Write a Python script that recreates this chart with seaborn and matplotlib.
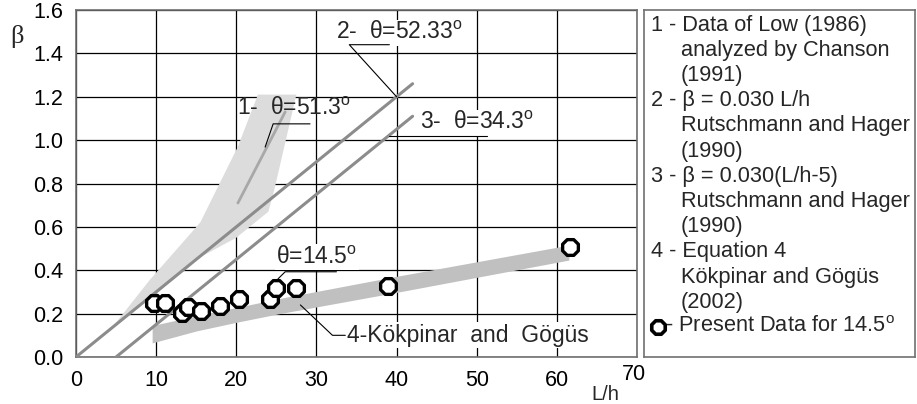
import numpy as np
import pandas as pd
import seaborn as sns
import matplotlib.pyplot as plt
from matplotlib.transforms import ScaledTranslation

sns.set_theme(style='white')
plt.rcParams['font.family'] = ['Liberation Sans', 'DejaVu Sans']
plt.rcParams['mathtext.fontset'] = 'custom'
plt.rcParams['mathtext.rm'] = 'Liberation Sans'

# present data, theta = 14.5 deg
present_lh = [9.7, 11.1, 13.2, 14.0, 15.6, 18.0, 20.4, 24.2, 25.0, 27.4, 38.9, 61.6]
present_beta = [0.249, 0.249, 0.203, 0.23, 0.212, 0.235, 0.267, 0.267, 0.317, 0.317, 0.327, 0.507]

# 1 - Low (1986) / Chanson (1991): scatter region outline and mean line
low_band_x = [4.6, 9.2, 15.5, 20.2, 22.7, 27.5, 24.8, 24.0, 20.0, 15.0, 10.0]
low_band_y = [0.14, 0.355, 0.62, 0.97, 1.21, 1.21, 0.78, 0.67, 0.55, 0.45, 0.29]
low_line_x = [20.2, 26.1]
low_line_y = [0.71, 1.13]

# 2 / 3 - Rutschmann and Hager (1990)
rh2_x = [0, 42]
rh3_x = [5, 42]

# 4 - Kokpinar and Gogus (2002) band
kg_x = [9.5, 15.0, 20.0, 25.4, 40.0, 61.5]
kg_top = [0.145, 0.19, 0.228, 0.27, 0.372, 0.516]
kg_bot = [0.065, 0.12, 0.16, 0.20, 0.298, 0.447]

legend_lines = [
    ('1 - Data of Low (1986)', 0),
    ('analyzed by Chanson', 1),
    ('(1991)', 1),
    ('2 - β = 0.030 L/h', 0),
    ('Rutschmann and Hager', 1),
    ('(1990)', 1),
    ('3 - β = 0.030(L/h-5)', 0),
    ('Rutschmann and Hager', 1),
    ('(1990)', 1),
    ('4 - Equation 4', 0),
    ('Kökpinar and Gögüs', 1),
    ('(2002)', 1),
]

W, H = 917, 404
fig = plt.figure(figsize=(W / 100, H / 100), dpi=100)
ax = fig.add_axes([76 / W, 47 / H, (637 - 76) / W, (357 - 10) / H])
ax.set_facecolor('white')

fs = 15.5
afs = 16.5
lfs = 15.7
line_grey = '#8c8c8c'

# bands
ax.fill(low_band_x, low_band_y, color='#dcdcdc', lw=0, zorder=1)
ax.fill_between(kg_x, kg_bot, kg_top, color='#c0c0c0', lw=0, zorder=1)

# lines
rh2 = pd.DataFrame({'x': rh2_x, 'y': [0.030 * v for v in rh2_x]})
rh3 = pd.DataFrame({'x': rh3_x, 'y': [0.030 * (v - 5) for v in rh3_x]})
sns.lineplot(data=rh2, x='x', y='y', ax=ax, color=line_grey, lw=2.2, zorder=3)
sns.lineplot(data=rh3, x='x', y='y', ax=ax, color=line_grey, lw=2.2, zorder=3)
sns.lineplot(x=low_line_x, y=low_line_y, ax=ax, color='#a8a8a8', lw=2, zorder=3)

# present data
sns.scatterplot(x=present_lh, y=present_beta, ax=ax, marker='8', s=150,
                facecolor='white', edgecolor='black', linewidth=2.4, zorder=6)

ax.set_xlim(0, 70)
ax.set_ylim(0, 1.6)
ax.set_xticks(range(0, 71, 10))
ax.set_yticks(np.arange(0, 1.61, 0.2))
ax.set_yticklabels([f'{v:.1f}' for v in np.arange(0, 1.61, 0.2)])
ax.grid(True, color='black', lw=0.9, zorder=0)
ax.set_axisbelow(True)
ax.tick_params(axis='both', labelsize=fs, length=0, colors='black', pad=9)
for sp in ax.spines.values():
    sp.set_color('#707070')
    sp.set_linewidth(1.2)
ax.set_xlabel('')
ax.set_ylabel('')
# the 70 label sits a little higher than the others
lab70 = ax.get_xticklabels()[-1]
lab70.set_transform(lab70.get_transform() + ScaledTranslation(-3 / 100, 5 / 100, fig.dpi_scale_trans))

fig.text(17 / W, 1 - 37 / H, 'β', family='Liberation Serif', fontsize=19, ha='center', va='center')
fig.text(605 / W, 1 - 394 / H, 'L/h', fontsize=fs - 1, ha='center', va='center')

# annotations
box = dict(facecolor='white', edgecolor='none', pad=1)
deg = r'$^{\mathrm{o}}$'
ax.text(20.1, 1.145, '1-  θ=51.3' + deg, fontsize=afs, va='center', ha='left', zorder=4)
ax.plot([23.6, 24.6, 29.2], [0.968, 1.075, 1.075], color='black', lw=0.8, zorder=5)
ax.text(32.5, 1.495, '2-  θ=52.33' + deg, fontsize=afs, va='center', ha='left', bbox=box, zorder=4)
ax.plot([40, 34.1, 39.1], [1.2, 1.44, 1.44], color='black', lw=0.8, zorder=5)
ax.text(42.9, 1.08, '3-  θ=34.3' + deg, fontsize=afs, va='center', ha='left', bbox=box, zorder=4)
ax.plot([39.1, 51.3], [1.018, 1.018], color='black', lw=0.8, zorder=5)
ax.text(25.0, 0.46, 'θ=14.5' + deg, fontsize=afs, va='center', ha='left', bbox=box, zorder=4)
ax.plot([25.2, 26.1, 32.5], [0.36, 0.393, 0.393], color='black', lw=0.8, zorder=5)
ax.text(33.8, 0.10, '4-Kökpinar  and  Gögüs', fontsize=afs, va='center', ha='left', bbox=box, zorder=4)
ax.plot([28.0, 32.0, 33.6], [0.24, 0.10, 0.10], color='black', lw=0.8, zorder=5)

# legend panel
lax = fig.add_axes([644 / W, 47 / H, (915 - 644) / W, (357 - 10) / H])
lax.set_xlim(644, 915)
lax.set_ylim(357, 10)
lax.set_xticks([])
lax.set_yticks([])
for sp in lax.spines.values():
    sp.set_color('#707070')
    sp.set_linewidth(1.2)
for i, (txt, indent) in enumerate(legend_lines):
    lax.text(681 if indent else 651, 25 + i * 25.2, txt, fontsize=lfs, va='center', ha='left')
sns.scatterplot(x=[658], y=[327], ax=lax, marker='8', s=110, facecolor='white',
                edgecolor='black', linewidth=2.6)
lax.text(665, 327, '- Present Data for 14.5' + deg, fontsize=lfs, va='center', ha='left')

fig.savefig('out.png', dpi=100)
